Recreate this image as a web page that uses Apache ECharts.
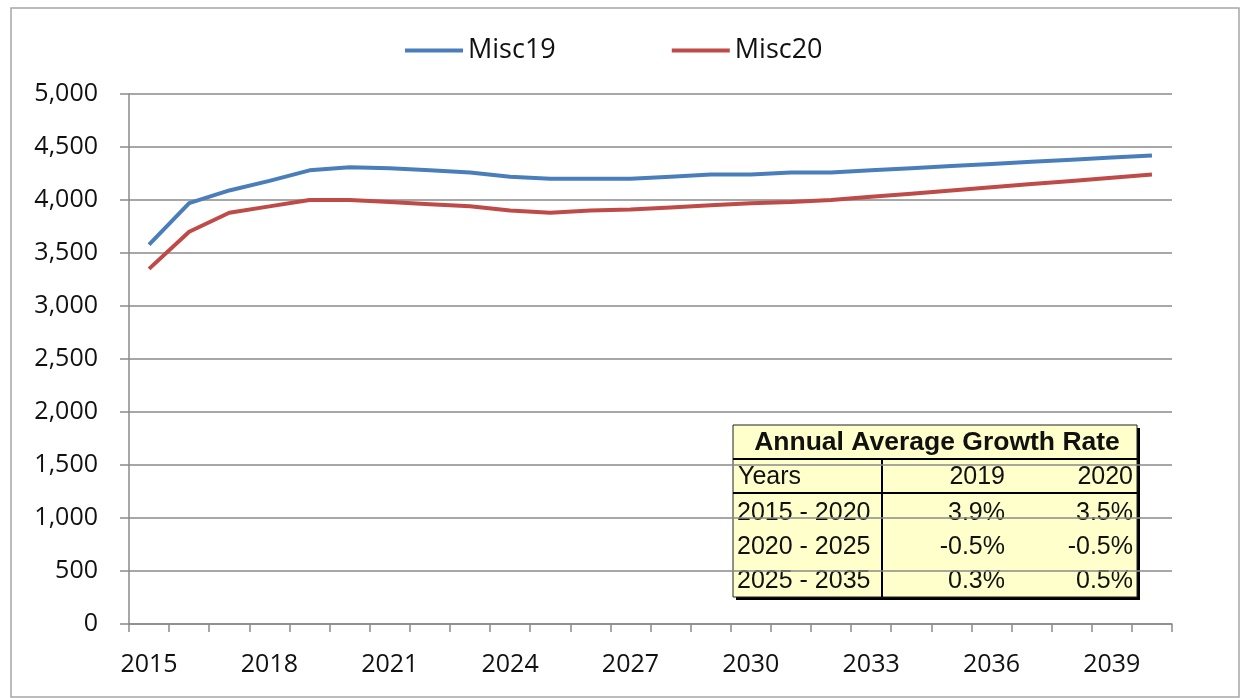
<!DOCTYPE html>
<html>
<head>
<meta charset="utf-8">
<script src="https://cdn.jsdelivr.net/npm/echarts@6/dist/echarts.min.js"></script>
<style>
  html, body { margin: 0; padding: 0; background: #fff; }
  #chart { width: 1245px; height: 698px; }
</style>
</head>
<body>
<div id="chart"></div>
<script>
// years on the x axis
var years = [];
for (var y = 2015; y <= 2040; y++) years.push(String(y));

// series values
var misc19 = [3580, 3970, 4090, 4180, 4280, 4310, 4300, 4280, 4260, 4220, 4200, 4200, 4200,
              4220, 4240, 4240, 4260, 4260, 4280, 4300, 4320, 4340, 4360, 4380, 4400, 4420];
var misc20 = [3350, 3700, 3880, 3940, 4000, 4000, 3980, 3960, 3940, 3900, 3880, 3900, 3910,
              3930, 3950, 3970, 3980, 4000, 4030, 4060, 4090, 4120, 4150, 4180, 4210, 4240];

// growth rate table
var tableTitle = "Annual Average Growth Rate";
var tableHead = ["Years", "2019", "2020"];
var tablePeriods = ["2015 - 2020", "2020 - 2025", "2025 - 2035"];
var rate19 = ["3.9%", "-0.5%", "0.3%"];
var rate20 = ["3.5%", "-0.5%", "0.5%"];

var BLUE = "#4a7ebb";
var RED = "#be4b48";
var GRID_GRAY = "#8a8a8a";
var FONT = "'Open Sans', sans-serif";
var TFONT = "'Liberation Sans', Arial, sans-serif";

// table graphic (x0,y0 top-left)
function buildTable() {
  var x0 = 733, y0 = 425, w = 404, rowH = 34, colX = 882;
  var h = 172;
  var els = [];
  // shadow edge
  els.push({ type: "rect", shape: { x: x0 + 3, y: y0 + 3, width: w, height: h }, style: { fill: "#000" } });
  els.push({ type: "rect", shape: { x: x0, y: y0, width: w, height: h },
             style: { fill: "#ffffcc", stroke: "#222", lineWidth: 1 } });
  els.push({ type: "line", shape: { x1: x0, y1: y0 + rowH, x2: x0 + w, y2: y0 + rowH }, style: { stroke: "#000", lineWidth: 2 } });
  els.push({ type: "line", shape: { x1: x0, y1: y0 + rowH * 2, x2: x0 + w, y2: y0 + rowH * 2 }, style: { stroke: "#000", lineWidth: 2 } });
  els.push({ type: "line", shape: { x1: colX, y1: y0 + rowH, x2: colX, y2: y0 + h }, style: { stroke: "#000", lineWidth: 2 } });
  els.push({ type: "text", x: x0 + w / 2 + 2, y: y0 + rowH / 2 + 1,
             style: { text: tableTitle, font: "bold 26.5px " + TFONT, fill: "#111", align: "center", verticalAlign: "middle" } });
  var headY = y0 + rowH * 1.5 + 1;
  var f = "25px " + TFONT;
  els.push({ type: "text", x: x0 + 5, y: headY, style: { text: tableHead[0], font: f, fill: "#111", verticalAlign: "middle" } });
  els.push({ type: "text", x: 1005, y: headY, style: { text: tableHead[1], font: f, fill: "#111", align: "right", verticalAlign: "middle" } });
  els.push({ type: "text", x: 1133, y: headY, style: { text: tableHead[2], font: f, fill: "#111", align: "right", verticalAlign: "middle" } });
  for (var i = 0; i < tablePeriods.length; i++) {
    var ry = y0 + rowH * 2 + 20 + i * 34;
    els.push({ type: "text", x: x0 + 4, y: ry, style: { text: tablePeriods[i], font: f, fill: "#111", verticalAlign: "middle" } });
    els.push({ type: "text", x: 1005, y: ry, style: { text: rate19[i], font: f, fill: "#111", align: "right", verticalAlign: "middle" } });
    els.push({ type: "text", x: 1133, y: ry, style: { text: rate20[i], font: f, fill: "#111", align: "right", verticalAlign: "middle" } });
  }
  return { type: "group", z: 100, children: els };
}

var myChart = echarts.init(document.getElementById("chart"));
var option = {
  backgroundColor: "#fff",
  animation: false,
  grid: { left: 129, right: 73, top: 94, bottom: 74 },
  legend: {
    left: 400,
    top: 32,
    itemWidth: 58,
    itemHeight: 4,
    itemGap: 116,
    icon: "rect",
    textStyle: { fontFamily: FONT, fontSize: 27, color: "#111" },
    data: ["Misc19", "Misc20"]
  },
  xAxis: {
    type: "category",
    data: years,
    boundaryGap: true,
    axisLine: { lineStyle: { color: GRID_GRAY, width: 1.5 } },
    axisTick: { show: true, interval: 0, length: 8, lineStyle: { color: GRID_GRAY, width: 1.5 } },
    axisLabel: { interval: 2, margin: 28, fontFamily: FONT, fontSize: 25, color: "#111" },
    splitLine: { show: false }
  },
  yAxis: {
    type: "value",
    min: 0,
    max: 5000,
    interval: 500,
    axisLine: { show: true, lineStyle: { color: GRID_GRAY, width: 1.5 } },
    axisTick: { show: true, length: 9, lineStyle: { color: GRID_GRAY, width: 1.5 } },
    axisLabel: {
      margin: 31,
      fontFamily: FONT,
      fontSize: 25,
      color: "#111",
      formatter: function (v) { return v.toLocaleString("en-US"); }
    },
    splitLine: { lineStyle: { color: GRID_GRAY, width: 1.5 } }
  },
  series: [
    {
      name: "Misc19",
      type: "line",
      data: misc19,
      symbol: "none",
      color: BLUE,
      lineStyle: { width: 4, color: BLUE }
    },
    {
      name: "Misc20",
      type: "line",
      data: misc20,
      symbol: "none",
      color: RED,
      lineStyle: { width: 4, color: RED }
    }
  ],
  graphic: [
    { type: "rect", z: -1, shape: { x: 11, y: 8, width: 1228, height: 689 },
      style: { fill: "none", stroke: "#a6a6a6", lineWidth: 1.5 } },
    buildTable()
  ]
};
myChart.setOption(option, true);

window.addEventListener("resize", function () {
  myChart.resize();
});
</script>
</body>
</html>
